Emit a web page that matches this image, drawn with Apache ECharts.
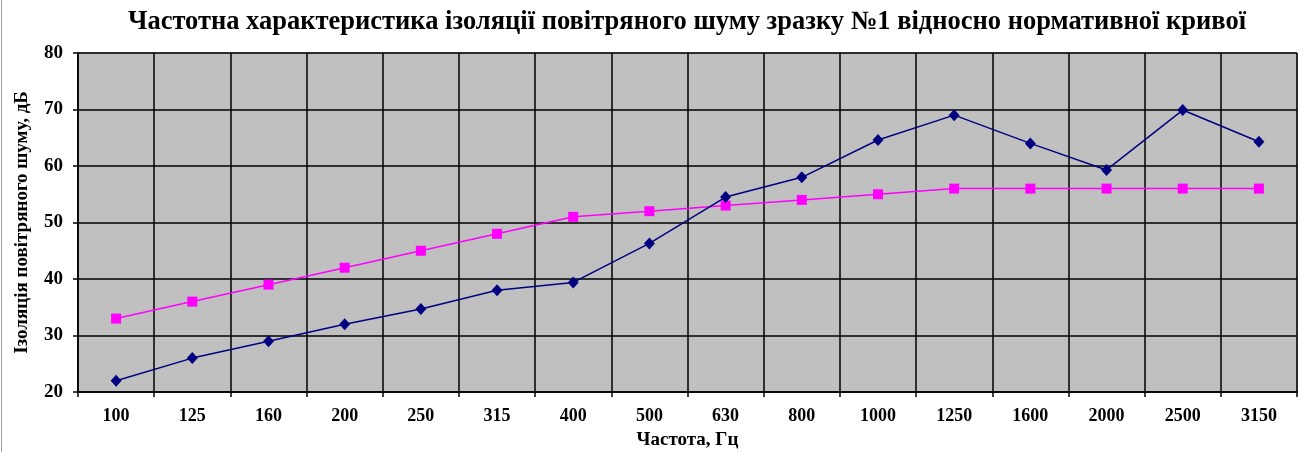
<!DOCTYPE html>
<html>
<head>
<meta charset="utf-8">
<script src="https://cdn.jsdelivr.net/npm/echarts@6/dist/echarts.min.js"></script>
<style>
  html, body { margin: 0; padding: 0; background: #ffffff; }
  #chart { width: 1304px; height: 452px; }
</style>
</head>
<body>
<div id="chart"></div>
<script>
// Third-octave band centre frequencies, Hz
const frequencies = ['100', '125', '160', '200', '250', '315', '400', '500',
  '630', '800', '1000', '1250', '1600', '2000', '2500', '3150'];

// Measured airborne sound insulation of sample No.1, dB
const measured = [22, 26, 29, 32, 34.7, 38, 39.4, 46.3, 54.5, 58, 64.6, 69, 64, 59.3, 69.9, 64.3];

// Reference (normative) curve, dB
const reference = [33, 36, 39, 42, 45, 48, 51, 52, 53, 54, 55, 56, 56, 56, 56, 56];

// Value axis ticks
const yMin = 20, yMax = 80, yStep = 10;

const serif = '"Liberation Serif", "DejaVu Serif", serif';

const chart = echarts.init(document.getElementById('chart'), null, { renderer: 'canvas' });

chart.setOption({
  backgroundColor: '#ffffff',
  animation: false,
  title: {
    text: 'Частотна характеристика ізоляції повітряного шуму зразку №1 відносно нормативної кривої',
    left: 682,
    textAlign: 'center',
    top: 4,
    textStyle: { fontFamily: serif, fontWeight: 'bold', fontSize: 26.5, color: '#000000' }
  },
  grid: {
    left: 78, right: 7, top: 53, bottom: 60,
    containLabel: false,
    outerBoundsMode: 'none',
    show: true,
    backgroundColor: '#c0c0c0',
    borderColor: '#808080',
    borderWidth: 1
  },
  xAxis: {
    type: 'category',
    data: frequencies,
    boundaryGap: true,
    name: 'Частота, Гц',
    nameLocation: 'middle',
    nameGap: 39,
    nameTextStyle: { fontFamily: serif, fontWeight: 'bold', fontSize: 19, color: '#000000' },
    axisLine: { lineStyle: { color: '#000000', width: 1.5 } },
    axisTick: { show: true, alignWithLabel: false, length: 5, lineStyle: { color: '#000000', width: 1.5 } },
    axisLabel: { fontFamily: serif, fontWeight: 'bold', fontSize: 18, color: '#000000', margin: 15 },
    splitLine: { show: true, lineStyle: { color: '#000000', width: 1.5 } }
  },
  yAxis: {
    type: 'value',
    min: yMin, max: yMax, interval: yStep,
    name: 'Ізоляція повітряного шуму, дБ',
    nameLocation: 'middle',
    nameGap: 46,
    nameRotate: 90,
    nameTextStyle: { fontFamily: serif, fontWeight: 'bold', fontSize: 19, color: '#000000' },
    axisLine: { show: true, lineStyle: { color: '#000000', width: 1.5 } },
    axisTick: { show: true, length: 5, lineStyle: { color: '#000000', width: 1.5 } },
    axisLabel: { fontFamily: serif, fontWeight: 'bold', fontSize: 19, color: '#000000', margin: 15 },
    splitLine: { show: true, lineStyle: { color: '#000000', width: 1.5 } }
  },
  series: [
    {
      name: 'Зразок №1',
      type: 'line',
      data: measured,
      symbol: 'diamond',
      symbolSize: [11, 12],
      lineStyle: { color: '#000080', width: 1.5 },
      itemStyle: { color: '#000080' },
      z: 3
    },
    {
      name: 'Нормативна крива',
      type: 'line',
      data: reference,
      symbol: 'rect',
      symbolSize: 10,
      lineStyle: { color: '#ff00ff', width: 1.5 },
      itemStyle: { color: '#ff00ff' },
      z: 2
    }
  ],
  graphic: [
    {
      type: 'line',
      shape: { x1: 1.5, y1: 0, x2: 1.5, y2: 452 },
      style: { stroke: '#a0a0a0', lineWidth: 1 }
    }
  ]
});
</script>
</body>
</html>
